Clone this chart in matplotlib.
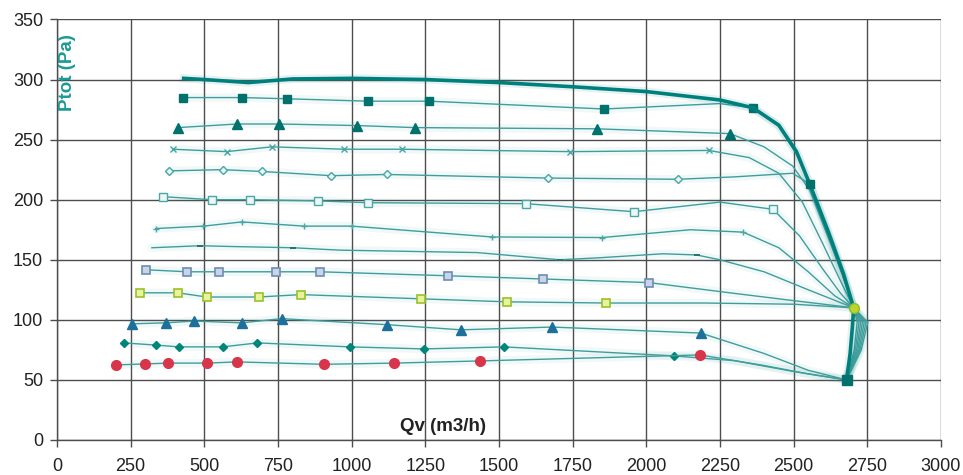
import matplotlib
matplotlib.use("Agg")
import matplotlib.pyplot as plt

plt.rcParams["font.family"] = ["Liberation Sans", "DejaVu Sans"]

# ── data (Qv in m3/h, Ptot in Pa) ────────────────────────────────────
# bold envelope curve
env_x = [430, 500, 650, 800, 1000, 1250, 1500, 1750, 2000, 2250, 2362, 2450,
         2510, 2555, 2620, 2670, 2704, 2700, 2692, 2680]
env_y = [301, 300, 297.5, 300.5, 301, 300, 297.5, 294, 290, 283, 276.5, 262,
         240, 213, 172, 138, 110, 95, 72, 50]
env_marks = [13, 16, 19]

s1_x = [427, 629, 780, 1054, 1262, 1857, 2250, 2362, 2450, 2510, 2555, 2615, 2665, 2704,
        2752, 2730, 2680]
s1_y = [285, 285, 284, 282, 282, 275.5, 280, 276.5, 261, 238, 213, 174, 140, 110,
        98, 75, 50]
s1_marks = [0, 1, 2, 3, 4, 5, 7]

s2_x = [410, 610, 755, 1019, 1215, 1832, 2284, 2400, 2497, 2555, 2612, 2665, 2704,
        2746, 2726, 2680]
s2_y = [260, 263, 263, 261.7, 260, 259, 255, 244, 228, 208, 172, 138, 110,
        98, 75, 50]
s2_marks = [0, 1, 2, 3, 4, 5, 6]

s3_x = [395, 576, 729, 975, 1170, 1741, 2213, 2350, 2450, 2530, 2600, 2660, 2704,
        2740, 2722, 2680]
s3_y = [242, 240, 244, 242, 242, 240, 241, 235, 222, 198, 163, 132, 110,
        98, 75, 50]
s3_marks = [0, 1, 2, 3, 4, 5, 6]

s4_x = [380, 562, 696, 930, 1120, 1667, 2108, 2300, 2497, 2555, 2615, 2665, 2704,
        2734, 2718, 2680]
s4_y = [224, 225, 223.5, 220, 221, 218, 217, 219, 222, 213, 172, 138, 110,
        98, 75, 50]
s4_marks = [0, 1, 2, 3, 4, 5, 6]

s5_x = [360, 525, 655, 886, 1056, 1591, 1958, 2250, 2430, 2520, 2600, 2660, 2704,
        2728, 2714, 2680]
s5_y = [202.5, 200, 200, 199, 197.5, 196.7, 190, 198, 192, 170, 142, 122, 110,
        98, 75, 50]
s5_marks = [0, 1, 2, 3, 4, 5, 6, 8]

s6_x = [335, 497, 627, 839, 1000, 1475, 1850, 2150, 2329, 2450, 2550, 2640, 2704,
        2722, 2710, 2680]
s6_y = [176, 178, 181.5, 178, 178, 169, 168.5, 175, 173, 160, 140, 120, 110,
        98, 75, 50]
s6_marks = [0, 1, 2, 3, 4, 5, 6, 8]

s7_x = [322, 485, 598, 802, 960, 1425, 1707, 1843, 2057, 2171, 2250, 2400, 2550, 2704,
        2716, 2706, 2680]
s7_y = [160, 161.7, 161, 160, 158, 156, 150, 151.7, 155, 154, 150, 140, 125, 110,
        98, 75, 50]
s7_marks = [1, 3, 6, 9]

s8_x = [301, 442, 550, 742, 892, 1326, 1650, 2009, 2300, 2500, 2704]
s8_y = [141.7, 140, 140, 140, 140, 136.7, 134, 131, 122, 116, 110]
s8_marks = [0, 1, 2, 3, 4, 5, 6, 7]

s9_x = [282, 410, 508, 684, 828, 1235, 1527, 1863, 2200, 2500, 2704]
s9_y = [122.5, 122.5, 119, 119, 121, 117.5, 115, 114, 114, 113, 110]
s9_marks = [0, 1, 2, 3, 4, 5, 6, 7]

s10_x = [254, 369, 466, 627, 762, 1119, 1371, 1680, 2185, 2400, 2550, 2680]
s10_y = [96.7, 97.5, 99, 97.5, 101, 96, 91.7, 94, 89, 72, 58, 50]
s10_marks = [0, 1, 2, 3, 4, 5, 6, 7, 8]

s11_x = [228, 335, 414, 562, 680, 995, 1245, 1517, 2094, 2300, 2500, 2680]
s11_y = [80.8, 79, 77.5, 77.5, 80.8, 77.5, 75.8, 77.5, 70, 66, 57, 50]
s11_marks = [0, 1, 2, 3, 4, 5, 6, 7, 8]

s12_x = [200, 299, 377, 509, 610, 906, 1144, 1435, 2182, 2400, 2550, 2680]
s12_y = [62.5, 63.3, 64, 64, 65, 63, 64, 65.8, 70.8, 62, 55, 50]
s12_marks = [0, 1, 2, 3, 4, 5, 6, 7, 8]

x_ticks = [0, 250, 500, 750, 1000, 1250, 1500, 1750, 2000, 2250, 2500, 2750, 3000]
y_ticks = [0, 50, 100, 150, 200, 250, 300, 350]

LINE = "#3f9e9c"
TEAL = "#00716d"

series = [
    (s1_x, s1_y, s1_marks, dict(marker="s", ms=6, mfc=TEAL, mec=TEAL)),
    (s2_x, s2_y, s2_marks, dict(marker="^", ms=6.5, mfc=TEAL, mec=TEAL)),
    (s3_x, s3_y, s3_marks, dict(marker="x", ms=5, mec="#4aa7a5", mew=1.0)),
    (s4_x, s4_y, s4_marks, dict(marker="D", ms=4.5, mfc="#e6f4f2", mec="#4aa7a5", mew=1.0)),
    (s5_x, s5_y, s5_marks, dict(marker="s", ms=6, mfc="#eef7f6", mec="#4aa7a5", mew=1.0)),
    (s6_x, s6_y, s6_marks, dict(marker="+", ms=5, mec="#4aa7a5", mew=1.0)),
    (s7_x, s7_y, s7_marks, dict(marker="_", ms=5, mec="#2c6f6c", mew=1.4)),
    (s8_x, s8_y, s8_marks, dict(marker="s", ms=6, mfc="#c9d5e6", mec="#6d8db3", mew=1.2)),
    (s9_x, s9_y, s9_marks, dict(marker="s", ms=6, mfc="#e8f2a0", mec="#9bc126", mew=1.2)),
    (s10_x, s10_y, s10_marks, dict(marker="^", ms=6.5, mfc="#1d6f9c", mec="#1d6f9c")),
    (s11_x, s11_y, s11_marks, dict(marker="D", ms=4.5, mfc="#00857a", mec="#00857a")),
    (s12_x, s12_y, s12_marks, dict(marker="o", ms=7, mfc="#d8354a", mec="#d8354a")),
]

fig = plt.figure(figsize=(9.63, 4.75), dpi=100)
ax = fig.add_axes([0.0592, 0.0737, 0.9178, 0.8853])

for xs, ys, marks, style in series:
    ax.plot(xs, ys, color=LINE, lw=6, alpha=0.07, solid_capstyle="round", zorder=2)
    ax.plot(xs, ys, color=LINE, lw=1.0, markevery=marks, zorder=3, **style)

ax.plot(env_x, env_y, color="#00807c", lw=6, alpha=0.1, zorder=3)
ax.plot(env_x, env_y, color="#00807c", lw=2.6, zorder=4)
ax.plot([env_x[i] for i in env_marks[:1]], [env_y[i] for i in env_marks[:1]],
        ls="none", marker="s", ms=6, color=TEAL, zorder=5)
ax.plot([env_x[env_marks[1]]], [env_y[env_marks[1]]], ls="none", marker="o",
        ms=7, mfc="#b9d52e", mec="#8fbf2a", zorder=5)
ax.plot([env_x[env_marks[2]]], [env_y[env_marks[2]]], ls="none", marker="s",
        ms=6.5, color=TEAL, zorder=5)

ax.set_xlim(0, 3000)
ax.set_ylim(0, 350)
ax.set_xticks(x_ticks)
ax.set_yticks(y_ticks)
ax.grid(True, color="#4d4d4d", lw=1.0)
ax.set_axisbelow(True)
for side in ("top", "right"):
    ax.spines[side].set_visible(False)
for side in ("left", "bottom"):
    ax.spines[side].set_color("#4d4d4d")
    ax.spines[side].set_linewidth(1.0)
ax.tick_params(direction="out", length=5, width=1.0, color="#4d4d4d",
               labelsize=13, labelcolor="#222222")
ax.tick_params(axis="y", pad=5)
ax.tick_params(axis="x", pad=8)

ax.text(36, 306, "Ptot (Pa)", rotation=90, ha="center", va="center",
        color="#1a9a96", fontsize=13.5, fontweight="bold")
ax.text(1310, 11, "Qv (m3/h)", ha="center", va="center",
        color="#222222", fontsize=13.5, fontweight="bold")

fig.savefig("out.png", dpi=100)
